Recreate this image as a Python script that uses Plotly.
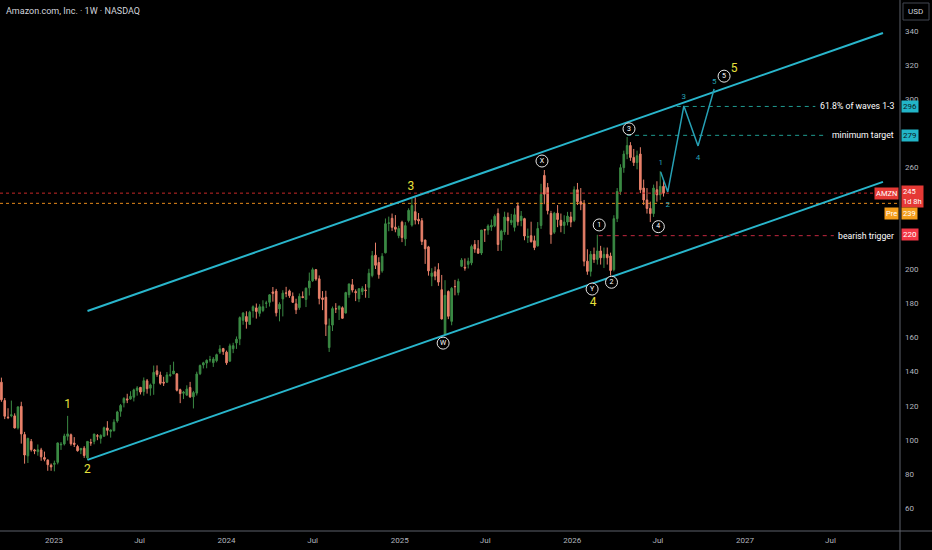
import pandas as pd
import plotly.graph_objects as go

# weekly candles, week of 2022-09-12 .. week of 2026-07-13
opens = [
    133.8, 123.0, 113.3, 114.1, 114.0, 107.0, 119.6, 103.0, 90.5, 99.0, 94.0, 93.0, 94.0, 89.5, 88.0, 85.0,
    # 2023
    85.5, 86.7, 97.0, 97.5, 102.0, 102.9, 98.0, 96.0, 94.0, 95.0, 89.3, 98.4, 99.0,
    102.3, 100.8, 102.0, 106.9, 104.9, 105.3, 111.0, 116.7, 121.7, 124.0, 123.9, 125.0, 129.0,
    130.8, 128.3, 134.6, 130.3, 133.0, 140.5, 138.0, 133.8, 133.8, 137.7, 138.7, 138.7, 129.4,
    127.3, 126.2, 130.7, 125.2, 127.4, 138.8, 144.0, 145.1, 147.0, 145.3, 146.5, 151.5, 153.6,
    # 2024
    151.5, 146.2, 153.5, 156.9, 159.3, 170.2, 172.4, 167.8, 175.9, 177.5, 174.3, 176.0, 180.2,
    180.8, 186.9, 187.4, 176.9, 182.8, 186.3, 187.5, 184.3, 179.9, 177.7, 184.1, 182.5, 189.3,
    193.5, 200.0, 194.6, 183.4, 183.8, 154.2, 167.4, 177.0, 176.7, 177.6, 174.5, 185.3, 191.1, 187.1,
    182.9, 187.1, 188.0, 189.6, 196.5, 208.5, 204.2, 199.3, 209.9, 227.2, 230.2, 225.0, 220.0,
    # 2025
    227.9, 218.1, 228.9, 226.2, 234.1, 229.6, 228.8, 217.4, 213.4, 196.1, 198.8, 200.0, 188.2,
    162.0, 187.2, 169.6, 190.1, 186.6, 202.0, 201.4, 203.1, 204.0, 214.8, 212.3, 209.8, 223.5,
    223.3, 225.1, 225.8, 233.0, 217.4, 222.2, 230.7, 227.7, 224.9, 237.5, 228.9, 230.0, 219.0,
    220.0, 217.0, 214.0, 226.0, 255.4, 248.3, 233.0, 222.0, 233.2, 229.0, 226.0, 228.0, 231.0,
    # 2026
    229.0, 247.0, 240.0, 239.0, 205.0, 199.0, 209.0, 206.0, 211.0, 207.0, 209.0, 208.0, 200.0,
    230.0, 246.0, 260.0, 268.0, 273.0, 266.0, 263.0, 268.0, 248.0, 241.0, 236.0, 233.0, 247.0,
    244.0, 249.0,
]
highs = [
    136.5, 124.5, 118.5, 123.0, 115.5, 119.6, 122.3, 104.6, 101.1, 100.4, 94.6, 97.2, 95.2, 93.0, 88.5, 86.0,
    87.7, 98.3, 98.6, 103.5, 114.0, 103.6, 101.5, 97.0, 95.0, 96.2, 99.0, 100.5, 103.5,
    103.3, 103.2, 107.7, 110.9, 106.0, 112.0, 117.0, 121.0, 125.0, 127.0, 128.5, 130.0, 131.5,
    131.0, 136.6, 135.7, 133.0, 143.6, 143.7, 140.0, 137.0, 139.8, 144.0, 145.9, 139.2, 130.0,
    128.7, 132.0, 134.0, 128.7, 140.0, 144.2, 145.8, 147.2, 149.3, 148.6, 150.6, 155.6, 154.0,
    152.4, 156.5, 157.0, 160.7, 172.5, 175.0, 175.5, 175.8, 179.0, 180.1, 179.7, 182.0, 181.7,
    185.6, 189.8, 188.7, 180.8, 187.9, 189.9, 188.3, 186.6, 182.9, 186.0, 187.2, 189.5, 198.3,
    201.2, 200.4, 196.6, 187.4, 187.6, 171.3, 178.3, 180.3, 178.9, 178.4, 187.0, 191.8, 194.5, 188.4,
    189.0, 190.3, 191.5, 200.5, 211.0, 215.9, 207.3, 209.7, 230.1, 231.2, 233.0, 232.1, 225.8,
    228.8, 228.0, 236.1, 241.8, 242.5, 233.3, 230.4, 217.7, 214.0, 200.9, 201.8, 203.8, 196.9,
    193.8, 187.8, 189.8, 194.0, 194.7, 206.8, 206.6, 207.0, 214.7, 217.4, 217.4, 223.3, 224.0,
    226.7, 229.5, 232.5, 236.0, 223.5, 234.1, 233.6, 232.8, 236.1, 239.5, 234.5, 230.5, 224.2,
    228.2, 220.0, 228.0, 250.5, 258.6, 251.0, 234.6, 234.0, 238.0, 233.0, 232.0, 234.0, 234.0,
    249.0, 251.0, 248.0, 241.0, 212.0, 211.0, 213.0, 220.5, 214.0, 213.0, 213.0, 210.0, 232.0,
    248.0, 262.0, 270.0, 278.0, 275.0, 271.0, 270.0, 272.0, 253.0, 248.0, 240.0, 250.0, 252.0,
    258.0, 252.0,
]
lows = [
    122.3, 112.1, 112.1, 113.2, 106.6, 106.0, 97.7, 85.9, 86.3, 93.0, 91.5, 90.6, 87.6, 87.3, 81.7, 81.7,
    81.4, 85.5, 94.0, 96.6, 99.5, 96.5, 95.7, 93.0, 91.5, 89.3, 88.1, 96.4, 97.3,
    99.7, 97.7, 101.9, 102.5, 101.2, 104.8, 110.0, 113.5, 119.0, 121.5, 123.5, 122.5, 125.9,
    126.6, 125.9, 127.1, 125.9, 126.4, 137.0, 132.3, 131.6, 133.5, 137.0, 138.6, 128.4, 121.5,
    123.9, 126.0, 124.6, 118.4, 126.0, 138.0, 141.9, 142.0, 145.5, 142.8, 145.5, 150.4, 149.9,
    144.0, 145.8, 150.9, 153.4, 155.6, 167.6, 165.3, 167.8, 171.8, 171.2, 172.4, 175.0, 177.4,
    178.3, 181.2, 172.5, 169.6, 172.5, 183.8, 183.4, 180.4, 173.9, 176.4, 183.2, 178.0, 184.8,
    192.8, 193.5, 179.6, 176.2, 161.0, 151.6, 163.9, 174.5, 170.4, 171.2, 174.2, 183.5, 186.6, 181.5,
    180.9, 185.1, 183.5, 183.3, 195.5, 200.4, 194.7, 198.2, 209.6, 222.6, 222.8, 222.0, 218.5,
    216.2, 214.0, 227.8, 225.3, 226.6, 226.7, 214.5, 203.4, 196.5, 190.3, 193.8, 190.5, 170.7,
    161.4, 170.9, 167.3, 184.9, 184.9, 201.5, 199.4, 200.7, 202.6, 209.9, 209.4, 208.6, 216.3,
    220.5, 222.8, 225.0, 211.0, 211.0, 220.5, 220.5, 226.2, 222.5, 225.9, 225.5, 217.3, 215.7,
    216.0, 211.5, 213.6, 224.0, 238.5, 232.5, 215.2, 221.0, 225.0, 222.0, 221.0, 226.0, 225.0,
    228.0, 238.0, 235.0, 202.0, 197.0, 196.0, 204.0, 203.0, 203.0, 201.0, 203.0, 196.5, 199.0,
    228.0, 244.0, 257.0, 265.0, 264.0, 261.0, 259.0, 245.0, 238.0, 233.0, 228.0, 231.0, 240.0,
    241.0, 243.0,
]
closes = [
    123.5, 113.8, 113.0, 114.6, 106.9, 119.3, 103.4, 91.0, 100.8, 94.1, 93.4, 94.1, 89.9, 88.5, 85.3, 84.0,
    86.1, 98.1, 97.3, 102.2, 103.4, 97.6, 97.2, 93.5, 94.9, 90.7, 99.0, 98.1, 103.3,
    102.1, 102.5, 107.0, 105.5, 105.7, 110.3, 116.3, 120.1, 124.3, 123.4, 125.5, 129.3, 130.4,
    128.0, 134.7, 130.0, 132.2, 139.6, 138.4, 133.2, 133.3, 138.1, 138.2, 140.4, 129.1, 127.1,
    128.0, 129.8, 125.2, 127.7, 138.6, 143.6, 145.2, 146.7, 147.0, 147.4, 150.0, 153.4, 151.9,
    145.2, 155.2, 155.3, 159.1, 171.8, 174.5, 169.5, 175.0, 178.2, 175.4, 178.2, 178.2, 180.4,
    185.2, 186.1, 174.6, 179.6, 186.2, 186.2, 184.7, 180.8, 176.4, 184.3, 183.7, 189.1, 193.3,
    200.0, 194.5, 183.1, 182.5, 167.9, 166.9, 177.1, 177.0, 178.5, 171.4, 186.5, 191.6, 188.0, 186.5,
    188.8, 189.0, 187.8, 197.9, 208.2, 202.6, 197.1, 207.9, 227.0, 227.5, 224.9, 223.8, 224.2,
    218.9, 225.9, 234.9, 237.7, 229.2, 228.7, 216.6, 212.3, 199.3, 198.0, 196.2, 192.7, 171.0,
    184.9, 172.6, 189.0, 190.0, 193.1, 205.6, 201.0, 205.0, 213.6, 212.1, 209.7, 223.3, 223.4,
    225.7, 226.1, 231.4, 214.8, 222.7, 231.0, 228.8, 229.0, 232.3, 228.2, 231.5, 219.8, 219.5,
    216.4, 213.0, 224.2, 244.2, 244.4, 234.7, 220.7, 233.2, 229.5, 226.0, 228.0, 231.5, 228.0,
    247.0, 240.0, 238.5, 205.0, 199.0, 209.0, 206.0, 211.0, 207.0, 209.0, 207.0, 199.5, 230.0,
    246.0, 260.0, 268.0, 273.0, 266.0, 263.0, 267.0, 247.0, 241.0, 236.0, 233.0, 248.0, 244.0,
    249.0, 245.0,
]

# wave counts
major_text = ["1", "2", "3", "4", "5"]
major_dates = ["2023-01-30", "2023-03-13", "2025-01-25", "2026-02-14", "2026-12-09"]
major_prices = [120.4, 82.2, 248.6, 180.4, 318.3]

circ_text = ["W", "X", "Y", "1", "2", "3", "4", "5"]
circ_dates = ["2025-04-03", "2025-10-29", "2026-02-12", "2026-02-27",
              "2026-03-25", "2026-05-01", "2026-07-02", "2026-11-18"]
circ_prices = [156.8, 263.9, 188.6, 226.3, 192.6, 282.8, 225.3, 313.8]

# projected path
proj_dates = ["2026-07-07", "2026-07-22", "2026-08-25", "2026-09-24", "2026-10-28"]
proj_prices = [257.5, 245.7, 296.3, 272.8, 306.3]
proj_text = ["1", "2", "3", "4", "5"]
proj_text_prices = [262.8, 238.0, 301.6, 265.6, 310.4]

# channel
chan_dates = ["2023-03-13", "2027-10-20"]
chan_upper = [175.7, 339.2]
chan_lower = [88.1, 251.6]

# horizontal levels
levels = [296, 279, 220]
level_names = ["61.8% of waves 1-3", "minimum target", "bearish trigger"]
level_start = ["2026-08-10", "2026-04-27", "2026-02-26"]
level_end = ["2027-05-30", "2027-06-24", "2027-07-08"]
level_colors = ["#1f9a90", "#1f9a90", "#c2283f"]
last_price = 245
pre_price = 239

x_range = ["2022-09-09", "2027-11-25"]
tick_dates = ["2023-01-01", "2023-07-01", "2024-01-01", "2024-07-01", "2025-01-01",
              "2025-07-01", "2026-01-01", "2026-07-01", "2027-01-01", "2027-07-01"]
tick_text = ["2023", "Jul", "2024", "Jul", "2025", "Jul", "2026", "Jul", "2027", "Jul"]
# 220/240/280 are hidden behind the price tags on the reference
price_ticks = [60, 80, 100, 120, 140, 160, 180, 200, 260, 300, 320, 340]

weeks = pd.date_range("2022-09-12", periods=len(closes), freq="W-MON")

FONT = "Roboto"
fig = go.Figure()

# last / pre-market dotted lines
fig.add_trace(go.Scatter(x=x_range, y=[last_price] * 2, mode="lines",
                         line=dict(color="#c62828", width=1, dash="dot"), hoverinfo="skip"))
fig.add_trace(go.Scatter(x=x_range, y=[pre_price] * 2, mode="lines",
                         line=dict(color="#e68a1a", width=1, dash="dot"), hoverinfo="skip"))

fig.add_trace(go.Candlestick(
    x=weeks, open=opens, high=highs, low=lows, close=closes,
    increasing=dict(line=dict(color="#3b8a44", width=1), fillcolor="#3b8a44"),
    decreasing=dict(line=dict(color="#e8806a", width=1), fillcolor="#e8806a"),
    hoverinfo="skip",
))

for ys in (chan_upper, chan_lower):
    fig.add_trace(go.Scatter(x=chan_dates, y=ys, mode="lines",
                             line=dict(color="#29b6cc", width=2), hoverinfo="skip"))

for lv, s, e, c in zip(levels, level_start, level_end, level_colors):
    fig.add_trace(go.Scatter(x=[s, e], y=[lv, lv], mode="lines",
                             line=dict(color=c, width=1, dash="4px,4px"), hoverinfo="skip"))

fig.add_trace(go.Scatter(x=proj_dates, y=proj_prices, mode="lines",
                         line=dict(color="#26a0b4", width=1.5), hoverinfo="skip"))
fig.add_trace(go.Scatter(x=proj_dates, y=proj_text_prices, mode="text", text=proj_text,
                         textfont=dict(color="#26a0b4", size=8, family=FONT), hoverinfo="skip"))

fig.add_trace(go.Scatter(x=major_dates, y=major_prices, mode="text", text=major_text,
                         textfont=dict(color="#e8e23c", size=12, family=FONT), hoverinfo="skip"))

fig.add_trace(go.Scatter(
    x=circ_dates, y=circ_prices, mode="markers+text", text=circ_text,
    textposition="middle center",
    marker=dict(symbol="circle", size=12, color="#000000", line=dict(color="#e6e6e6", width=1)),
    textfont=dict(color="#ffffff", size=7, family=FONT), hoverinfo="skip"))

annotations = [
    dict(text="Amazon.com, Inc. · 1W · NASDAQ", x=0, y=1, xref="paper", yref="paper",
         xanchor="left", yanchor="top", xshift=4, yshift=-4, showarrow=False,
         font=dict(color="#d1d4dc", size=9, family=FONT)),
    dict(text="USD", x=916 / 900, y=1 - 11.5 / 531, xref="paper", yref="paper",
         xanchor="center", yanchor="middle", showarrow=False,
         font=dict(color="#d1d4dc", size=8, family=FONT)),
]
for lv, name in zip(levels, level_names):
    annotations.append(dict(text=name, x=1, xshift=-5, y=lv, xref="paper", yref="y",
                            xanchor="right", showarrow=False, borderpad=0,
                            font=dict(color="#ffffff", size=8.7, family=FONT)))

tag = dict(xref="paper", yref="y", showarrow=False, borderpad=1)
annotations += [
    dict(tag, text="296", x=1, y=296, xanchor="left", xshift=1, bgcolor="#22b5c8",
         font=dict(color="#0c1a1e", size=8, family=FONT)),
    dict(tag, text="279", x=1, y=279, xanchor="left", xshift=1, bgcolor="#22b5c8",
         font=dict(color="#0c1a1e", size=8, family=FONT)),
    dict(tag, text="AMZN", x=1, y=245, xanchor="right", xshift=-1, bgcolor="#e53935",
         font=dict(color="#ffffff", size=7.5, family=FONT)),
    dict(tag, text="245 <br>1d 8h", x=1, y=243.0, xanchor="left", xshift=1, bgcolor="#e53935",
         align="left", font=dict(color="#ffffff", size=7.5, family=FONT)),
    dict(tag, text="Pre", x=1, y=233.2, xanchor="right", xshift=-1, bgcolor="#f59e1b",
         font=dict(color="#ffffff", size=7.5, family=FONT)),
    dict(tag, text="239", x=1, y=233.2, xanchor="left", xshift=1, bgcolor="#f59e1b",
         font=dict(color="#ffffff", size=7.5, family=FONT)),
    dict(tag, text="220", x=1, y=220.4, xanchor="left", xshift=1, bgcolor="#f23645",
         font=dict(color="#ffffff", size=8, family=FONT)),
]

shapes = [
    dict(type="line", xref="paper", yref="paper", x0=1, x1=1, y0=-19 / 531, y1=1,
         line=dict(color="#5d606b", width=1)),
    dict(type="line", xref="paper", yref="paper", x0=0, x1=932 / 900, y0=0, y1=0,
         line=dict(color="#5d606b", width=1)),
    dict(type="rect", xref="paper", yref="paper", x0=903 / 900, x1=929 / 900,
         y0=1 - 20 / 531, y1=1 - 3 / 531, line=dict(color="#434651", width=1)),
]

fig.update_layout(
    width=932, height=550,
    paper_bgcolor="#000000", plot_bgcolor="#000000",
    margin=dict(l=0, r=32, t=0, b=19),
    showlegend=False,
    annotations=annotations,
    shapes=shapes,
    xaxis=dict(range=x_range, rangeslider=dict(visible=False), showgrid=False, zeroline=False,
               tickvals=tick_dates, ticktext=tick_text, ticks="", showline=False,
               ticklabelstandoff=3,
               tickfont=dict(color="#b2b5be", size=8, family=FONT)),
    yaxis=dict(side="right", range=[46.3, 358.6], tickvals=price_ticks,
               showgrid=False, zeroline=False, ticks="", showline=False,
               ticklabelstandoff=4,
               tickfont=dict(color="#b2b5be", size=8, family=FONT)),
)

fig.write_html("out.html", config={"displayModeBar": False},
               post_script="document.body.style.margin='0';"
               "document.body.style.background='#000';"
               "document.body.style.overflow='hidden';")
